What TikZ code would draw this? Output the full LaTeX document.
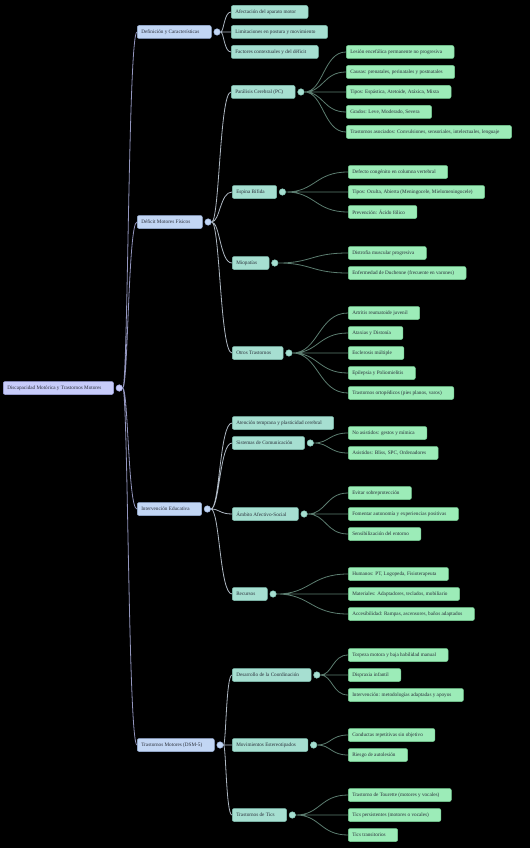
\documentclass[tikz,border=0pt]{standalone}
\usepackage{fontspec}
\setmainfont{Liberation Serif}
\usetikzlibrary{positioning,calc,backgrounds}
\definecolor{rootfill}{HTML}{C8CCFA}
\definecolor{rootline}{HTML}{A2A7E2}
\definecolor{catfill}{HTML}{C2D6F4}
\definecolor{catline}{HTML}{9CB3DA}
\definecolor{subfill}{HTML}{A6DFD1}
\definecolor{subline}{HTML}{82C1B2}
\definecolor{leaffill}{HTML}{9CECB8}
\definecolor{leafline}{HTML}{76CE94}
\definecolor{inkdark}{HTML}{2A2F3A}
\definecolor{edgeroot}{HTML}{9396BE}
\definecolor{edgecat}{HTML}{AEB8C2}
\definecolor{edgesub}{HTML}{5C7D70}
\tikzset{
  box/.style={draw,rounded corners=2pt,anchor=west,minimum height=13pt,inner xsep=4pt,inner ysep=0pt,font=\fontsize{5.2}{6}\selectfont,text=inkdark,line width=0.5pt,execute at end node={\hspace*{8pt}}},
  rootbox/.style={box,fill=rootfill,draw=rootline},
  catbox/.style={box,fill=catfill,draw=catline},
  subbox/.style={box,fill=subfill,draw=subline},
  leafbox/.style={box,fill=leaffill,draw=leafline},
  knob/.style={circle,minimum size=6.5pt,inner sep=0pt,line width=0.5pt},
  rootknob/.style={knob,fill=rootfill,draw=rootline},
  catknob/.style={knob,fill=catfill,draw=catline},
  subknob/.style={knob,fill=subfill,draw=subline},
  branch/.style={to path={.. controls ($(\tikztostart)!0.5!(\tikztostart -| \tikztotarget)$) and ($(\tikztotarget)!0.5!(\tikztotarget -| \tikztostart)$) .. (\tikztotarget)}},
  rootlink/.style={draw=edgeroot,line width=0.8pt},
  catlink/.style={draw=edgecat,line width=0.8pt},
  sublink/.style={draw=edgesub,line width=0.8pt},
}

\begin{document}
\begin{tikzpicture}[x=1pt,y=-1pt]
    \useasboundingbox (0,0) rectangle (530,848);
    % root and main branches
    \node[rootbox] (root) at (3,388) {Discapacidad Motórica y Trastornos Motores};
    \node[rootknob,right=2pt of root] (rootdot) {};
    \node[catbox] (def) at (137,32) {Definición y Características};
    \node[catbox] (deficit) at (137,222) {Déficit Motores Físicos};
    \node[catbox] (interv) at (137,509) {Intervención Educativa};
    \node[catbox] (tmotor) at (137,745) {Trastornos Motores (DSM-5)};
    \node[catknob,right=2pt of def] (defdot) {};
    \node[catknob,right=2pt of deficit] (deficitdot) {};
    \node[catknob,right=2pt of interv] (intervdot) {};
    \node[catknob,right=2pt of tmotor] (tmotordot) {};

    % definicion
    \node[subbox] (def1) at (231,12) {Afectación del aparato motor};
    \node[subbox] (def2) at (231,32) {Limitaciones en postura y movimiento};
    \node[subbox] (def3) at (231,52) {Factores contextuales y del déficit};

    % deficit motores fisicos
    \node[subbox] (pc) at (231,92) {Parálisis Cerebral (PC)};
    \node[subbox] (espina) at (232,192) {Espina Bífida};
    \node[subbox] (miop) at (232,263) {Miopatías};
    \node[subbox] (otros) at (232,353) {Otros Trastornos};
    \node[subknob,right=2pt of pc] (pcdot) {};
    \node[subknob,right=2pt of espina] (espinadot) {};
    \node[subknob,right=2pt of miop] (miopdot) {};
    \node[subknob,right=2pt of otros] (otrosdot) {};
    \node[leafbox] (pc1) at (346,52) {Lesión encefálica permanente no progresiva};
    \node[leafbox] (pc2) at (346,72) {Causas: prenatales, perinatales y postnatales};
    \node[leafbox] (pc3) at (346,92) {Tipos: Espástica, Atetoide, Atáxica, Mixta};
    \node[leafbox] (pc4) at (346,112) {Grados: Leve, Moderado, Severa};
    \node[leafbox] (pc5) at (346,132) {Trastornos asociados: Convulsiones, sensoriales, intelectuales, lenguaje};
    \node[leafbox] (esp1) at (348,172) {Defecto congénito en columna vertebral};
    \node[leafbox] (esp2) at (348,192) {Tipos: Oculta, Abierta (Meningocele, Mielomeningocele)};
    \node[leafbox] (esp3) at (348,212) {Prevención: Ácido fólico};
    \node[leafbox] (mio1) at (348,253) {Distrofia muscular progresiva};
    \node[leafbox] (mio2) at (348,273) {Enfermedad de Duchenne (frecuente en varones)};
    \node[leafbox] (otr1) at (348,313) {Artritis reumatoide juvenil};
    \node[leafbox] (otr2) at (348,333) {Ataxias y Distonía};
    \node[leafbox] (otr3) at (348,353) {Esclerosis múltiple};
    \node[leafbox] (otr4) at (348,373) {Epilepsia y Poliomielitis};
    \node[leafbox] (otr5) at (348,393) {Trastornos ortopédicos (pies planos, varos)};

    % intervencion educativa
    \node[subbox] (aten) at (232,423) {Atención temprana y plasticidad cerebral};
    \node[subbox] (sist) at (232,443) {Sistemas de Comunicación};
    \node[subbox] (ambito) at (232,514) {Ámbito Afectivo-Social};
    \node[subbox] (recur) at (232,594) {Recursos};
    \node[subknob,right=2pt of sist] (sistdot) {};
    \node[subknob,right=2pt of ambito] (ambitodot) {};
    \node[subknob,right=2pt of recur] (recurdot) {};
    \node[leafbox] (sis1) at (348,433) {No asistidos: gestos y mímica};
    \node[leafbox] (sis2) at (348,453) {Asistidos: Bliss, SPC, Ordenadores};
    \node[leafbox] (amb1) at (348,493) {Evitar sobreprotección};
    \node[leafbox] (amb2) at (348,514) {Fomentar autonomía y experiencias positivas};
    \node[leafbox] (amb3) at (348,534) {Sensibilización del entorno};
    \node[leafbox] (rec1) at (348,574) {Humanos: PT, Logopeda, Fisioterapeuta};
    \node[leafbox] (rec2) at (348,594) {Materiales: Adaptadores, teclados, mobiliario};
    \node[leafbox] (rec3) at (348,614) {Accesibilidad: Rampas, ascensores, baños adaptados};

    % trastornos motores
    \node[subbox] (coord) at (232,675) {Desarrollo de la Coordinación};
    \node[subbox] (estereo) at (232,745) {Movimientos Estereotipados};
    \node[subbox] (tics) at (232,815) {Trastornos de Tics};
    \node[subknob,right=2pt of coord] (coorddot) {};
    \node[subknob,right=2pt of estereo] (estereodot) {};
    \node[subknob,right=2pt of tics] (ticsdot) {};
    \node[leafbox] (coo1) at (348,655) {Torpeza motora y baja habilidad manual};
    \node[leafbox] (coo2) at (348,675) {Dispraxia infantil};
    \node[leafbox] (coo3) at (348,695) {Intervención: metodologías adaptadas y apoyos};
    \node[leafbox] (est1) at (348,735) {Conductas repetitivas sin objetivo};
    \node[leafbox] (est2) at (348,755) {Riesgo de autolesión};
    \node[leafbox] (tic1) at (348,795) {Trastorno de Tourette (motores y vocales)};
    \node[leafbox] (tic2) at (348,815) {Tics persistentes (motores o vocales)};
    \node[leafbox] (tic3) at (348,835) {Tics transitorios};

    \begin{scope}[on background layer]
      \fill[black] (0,0) rectangle (530,848);
      \draw[rootlink] (rootdot) to[branch] (def.west) (rootdot) to[branch] (deficit.west)
        (rootdot) to[branch] (interv.west) (rootdot) to[branch] (tmotor.west);
      \draw[catlink] (defdot) to[branch] (def1.west) (defdot) to[branch] (def2.west) (defdot) to[branch] (def3.west);
      \draw[catlink] (deficitdot) to[branch] (pc.west) (deficitdot) to[branch] (espina.west)
        (deficitdot) to[branch] (miop.west) (deficitdot) to[branch] (otros.west);
      \draw[catlink] (intervdot) to[branch] (aten.west) (intervdot) to[branch] (sist.west)
        (intervdot) to[branch] (ambito.west) (intervdot) to[branch] (recur.west);
      \draw[catlink] (tmotordot) to[branch] (coord.west) (tmotordot) to[branch] (estereo.west) (tmotordot) to[branch] (tics.west);
      \draw[sublink] (pcdot) to[branch] (pc1.west) (pcdot) to[branch] (pc2.west) (pcdot) to[branch] (pc3.west)
        (pcdot) to[branch] (pc4.west) (pcdot) to[branch] (pc5.west);
      \draw[sublink] (espinadot) to[branch] (esp1.west) (espinadot) to[branch] (esp2.west) (espinadot) to[branch] (esp3.west);
      \draw[sublink] (miopdot) to[branch] (mio1.west) (miopdot) to[branch] (mio2.west);
      \draw[sublink] (otrosdot) to[branch] (otr1.west) (otrosdot) to[branch] (otr2.west) (otrosdot) to[branch] (otr3.west)
        (otrosdot) to[branch] (otr4.west) (otrosdot) to[branch] (otr5.west);
      \draw[sublink] (sistdot) to[branch] (sis1.west) (sistdot) to[branch] (sis2.west);
      \draw[sublink] (ambitodot) to[branch] (amb1.west) (ambitodot) to[branch] (amb2.west) (ambitodot) to[branch] (amb3.west);
      \draw[sublink] (recurdot) to[branch] (rec1.west) (recurdot) to[branch] (rec2.west) (recurdot) to[branch] (rec3.west);
      \draw[sublink] (coorddot) to[branch] (coo1.west) (coorddot) to[branch] (coo2.west) (coorddot) to[branch] (coo3.west);
      \draw[sublink] (estereodot) to[branch] (est1.west) (estereodot) to[branch] (est2.west);
      \draw[sublink] (ticsdot) to[branch] (tic1.west) (ticsdot) to[branch] (tic2.west) (ticsdot) to[branch] (tic3.west);
    \end{scope}
  \end{tikzpicture}
\end{document}
